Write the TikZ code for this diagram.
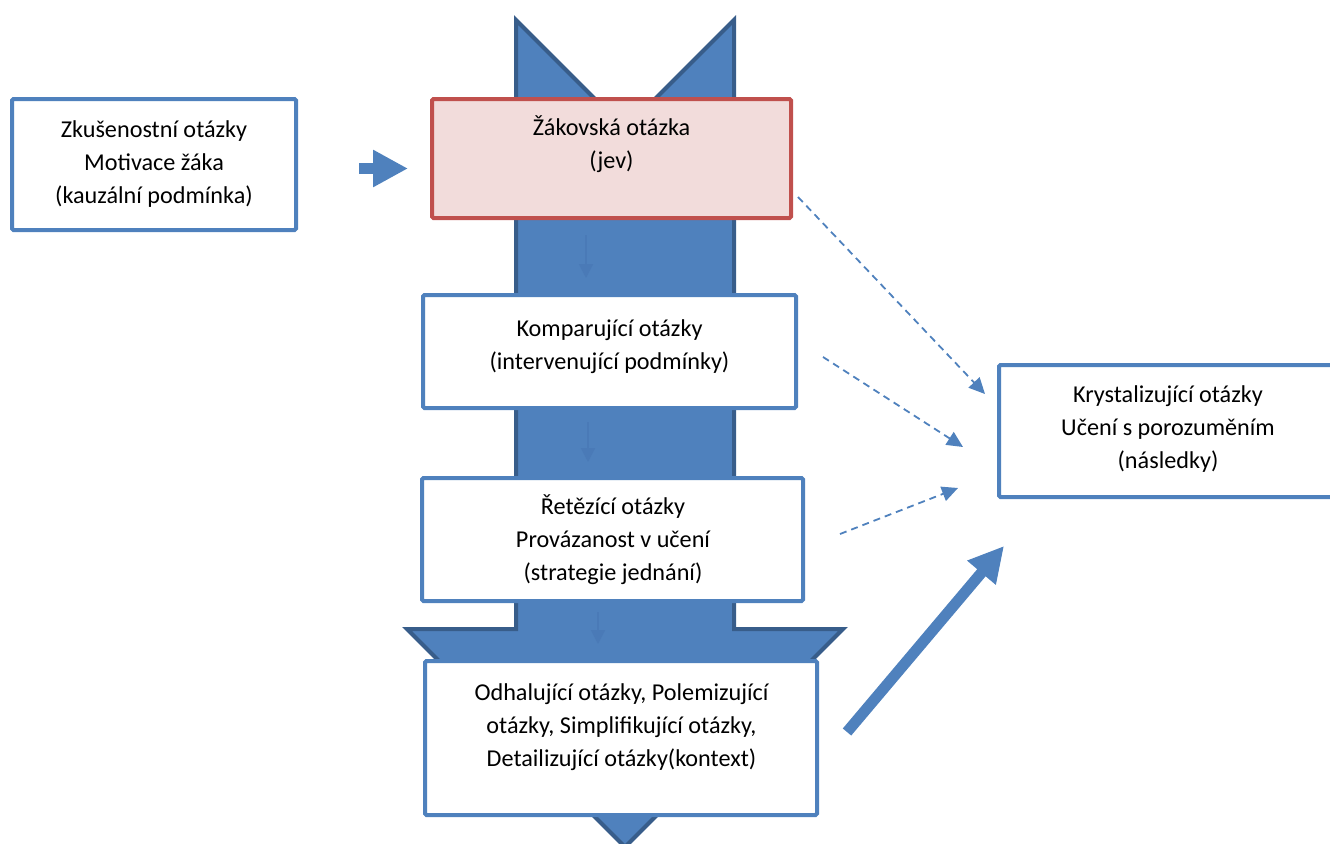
\documentclass[tikz,border=0pt]{standalone}
\usepackage{fontspec}
\setmainfont{Carlito}
\usetikzlibrary{arrows.meta}
\definecolor{obl}{HTML}{4F81BD}
\definecolor{obd}{HTML}{385D8A}
\definecolor{ored}{HTML}{C0504D}
\definecolor{opink}{HTML}{F2DCDB}
\definecolor{oin}{HTML}{4A7AB7}
\begin{document}
\begin{tikzpicture}[x=1pt,y=-1pt,
  bx/.style={draw=obl, line width=4pt, fill=white, rounded corners=1.5pt, inner sep=0pt},
  redbx/.style={bx, draw=ored, fill=opink},
  txt/.style={font=\fontsize{24.2}{33}\selectfont, align=center, anchor=north, inner sep=0pt},
  dsh/.style={draw=obl, line width=1.8pt, dash pattern=on 7pt off 5pt, -{Triangle[length=16pt,width=15pt]}},
  inarr/.style={draw=oin, line width=2pt, -{Triangle[length=14pt,width=14pt]}},
  blockarr/.style={draw=obl, line width=11pt, -{Triangle[length=35pt,width=35pt]}}]
\useasboundingbox (0,0) rectangle (1330,843);
\clip (0,0) rectangle (1330,843);
% big arrow
\filldraw[fill=obl, draw=obd, line width=4pt, line join=miter]
  (516,20) -- (625,129) -- (734,20) -- (734,629) -- (843,629) -- (625,847)
  -- (407,629) -- (516,629) -- cycle;
% faint arrows inside the shaft
\coordinate (i1a) at (586,235); \coordinate (i1b) at (586,278);
\coordinate (i2a) at (588,422); \coordinate (i2b) at (588,462);
\coordinate (i3a) at (598,612); \coordinate (i3b) at (598,644);
\draw[inarr] (i1a) -- (i1b);
\draw[inarr] (i2a) -- (i2b);
\draw[inarr] (i3a) -- (i3b);
% boxes
\node[bx, minimum width=284pt, minimum height=131pt] (b1) at (154,164.5) {};
\node[redbx, minimum width=359pt, minimum height=119pt] (b2) at (611.5,158.5) {};
\node[bx, minimum width=373pt, minimum height=113pt] (b3) at (609.5,351.5) {};
\node[bx, minimum width=381pt, minimum height=123pt] (b4) at (612.5,539.5) {};
\node[bx, minimum width=392pt, minimum height=154pt] (b5) at (621,738) {};
\node[bx, minimum width=336pt, minimum height=132pt] (b6) at (1167,431) {};
% texts
\node[txt] (t1) at (154,114) {\strut Zkušenostní otázky\\\strut Motivace žáka\\\strut (kauzální podmínka)};
\node[txt] (t2) at (611.5,112) {\strut Žákovská otázka\\\strut (jev)};
\node[txt] (t3) at (609.5,313) {\strut Komparující otázky\\\strut (intervenující podmínky)};
\node[txt] (t4) at (613,491) {\strut Řetězící otázky\\\strut Provázanost v učení\\\strut (strategie jednání)};
\node[txt] (t5) at (621.5,677) {\strut Odhalující otázky, Polemizující\\\strut otázky, Simplifikující otázky,\\\strut Detailizující otázky(kontext)};
\node[txt] (t6) at (1168,379) {\strut Krystalizující otázky\\\strut Učení s porozuměním\\\strut (následky)};
% left block arrow
\coordinate (la) at (359,168.5); \coordinate (lb) at (408,168.5);
\draw[blockarr] (la) -- (lb);
% dashed arrows
\coordinate (d1a) at (798,197); \coordinate (d1b) at (985,394);
\coordinate (d2a) at (823,357); \coordinate (d2b) at (963,447);
\coordinate (d3a) at (840,534); \coordinate (d3b) at (958,488);
\draw[dsh] (d1a) -- (d1b);
\draw[dsh] (d2a) -- (d2b);
\draw[dsh] (d3a) -- (d3b);
% thick arrow
\coordinate (ta) at (847,732); \coordinate (tb) at (1004,546);
\draw[blockarr] (ta) -- (tb);
\end{tikzpicture}
\end{document}
